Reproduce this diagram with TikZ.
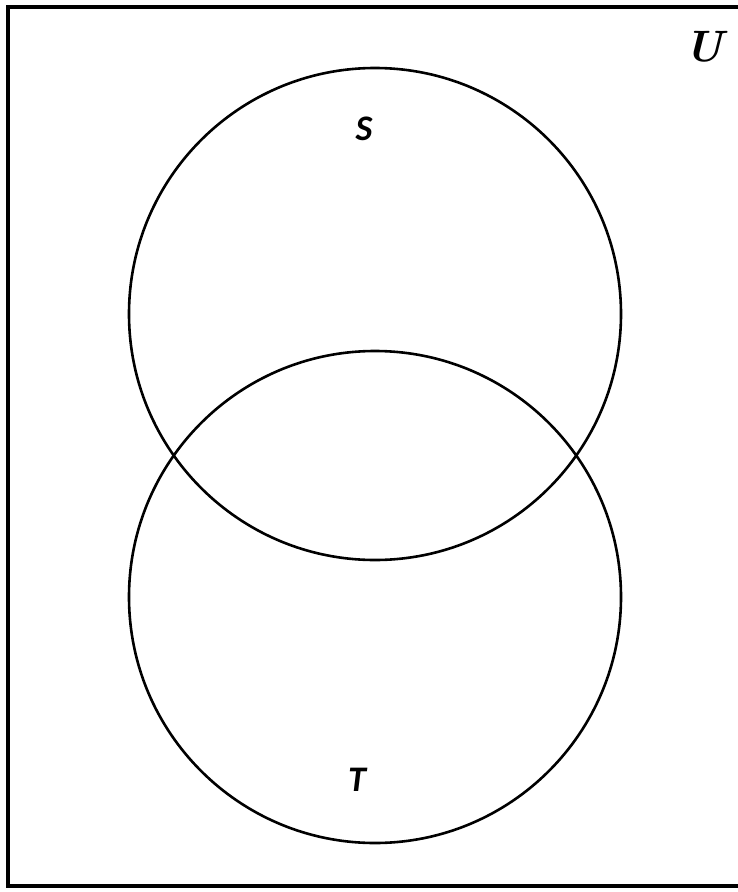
\documentclass[tikz,border=0pt]{standalone}
\usepackage{fontspec}
\newfontfamily\lblfont{Carlito}
\begin{document}
\begin{tikzpicture}[x=1pt,y=-1pt,
  setcircle/.style={circle,draw,line width=2.6pt,minimum size=492pt,inner sep=0pt},
  setlabel/.style={font=\lblfont\bfseries\itshape\fontsize{36}{36}\selectfont,inner sep=0pt}]
\useasboundingbox (0,0) rectangle (738,892);
\fill[white] (0,0) rectangle (738,892);
\draw[line width=4.5pt] (745,7) -- (8,7) -- (8,886) -- (745,886);
\node[setcircle] (S) at (375,314) {};
\node[setcircle] (T) at (375,597) {};
\node[setlabel] (Slbl) at (364,129) {S};
\node[setlabel] (Tlbl) at (357,780) {T};
\node[inner sep=0pt,font=\bfseries\itshape\fontsize{44}{44}\selectfont] (Ulbl) at (704,47) {U};
\end{tikzpicture}
\end{document}
